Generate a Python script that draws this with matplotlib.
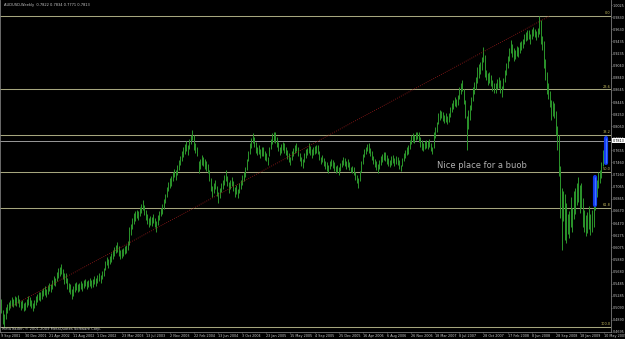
import numpy as np
import pandas as pd
import matplotlib
matplotlib.use('Agg')
import matplotlib.pyplot as plt

# chart header / footer
title_text = 'AUDUSD,Weekly  0.7822 0.7834 0.7771 0.7813'
footer_text = 'MetaTrader, \u00a9 2001-2009 MetaQuotes Software Corp.'
note_text = 'Nice place for a buob'
first_week = '2001-09-09'
bid_price = 0.7813

# weekly bar lows / highs (in 0.001)
lows = [500, 482, 477, 490, 500, 505, 508, 512, 510, 514, 512, 516, 510, 506, 508, 503, 505, 510, 514, 512,
        508, 504, 508, 514, 518, 522, 520, 524, 528, 530, 527, 532, 536, 534, 540, 546, 544, 552, 558, 560,
        564, 556, 548, 550, 540, 535, 532, 523,
        528, 535, 538, 534, 537, 540, 536, 541, 544, 540, 542, 545, 541, 543, 547, 545, 549, 552, 550, 556,
        560, 570, 578, 574, 580, 584, 588, 594, 598, 600, 594, 588, 590, 593, 596, 598, 603,
        612, 628, 638, 646, 650, 655, 652, 658, 663, 668, 660, 652, 646, 640, 644, 642, 648, 640, 633, 644,
        652, 658, 662, 670, 680, 690, 700, 704, 708, 716, 722, 718, 726, 734, 742, 748, 755, 760, 764, 758,
        768, 776, 782,
        766, 762, 756, 729, 735, 742, 740, 736, 732, 729, 716, 700, 690, 696, 702, 692, 680, 688, 698, 703,
        710, 716, 708, 696, 702, 708, 700, 690, 694, 688, 696, 703, 710, 716, 722, 734, 748, 760, 770, 778,
        772, 762, 758, 760, 754, 757, 756, 750, 748, 742, 756, 768, 776, 780, 778, 772, 764, 758, 762, 766,
        762, 758, 752, 746, 742, 750, 756, 762, 764, 756, 748, 740, 737,
        746, 754, 758, 762, 758, 754, 758, 760, 762, 759, 750, 744, 746, 740, 736, 732, 729, 735, 740, 737,
        732, 728, 730, 725, 732, 738, 742, 740, 736, 739, 734, 730, 728, 726, 718, 712, 704, 716, 730, 744,
        755, 760, 764, 762, 756, 750, 744, 738, 734, 729, 736, 742, 746, 750, 749, 744, 740, 738, 742, 745,
        740, 744, 742, 736, 732, 740, 748, 754, 758, 760, 768, 776, 780, 778, 782, 784, 780, 772, 766, 764,
        768, 770, 768, 772, 764, 760, 770,
        786, 796, 808, 816, 818, 814, 810, 812, 808, 812, 820, 828, 834, 838, 836, 840, 850, 858, 862, 842,
        818, 766, 800, 816, 832, 846, 858, 866, 876, 884, 890, 896, 910, 886, 880, 872, 876, 870, 862, 860,
        859, 866, 868, 860, 853, 866, 878, 888, 900, 912, 924, 918, 912, 915, 920, 918, 925, 930, 932, 940,
        944, 946, 948, 940, 948, 952, 950, 946, 950, 955,
        940, 930, 900, 880, 857, 850, 836, 815, 822, 818, 790, 766, 724, 655, 603, 650, 620, 615, 630, 622,
        640, 632, 654, 662, 676, 682, 664, 672, 641, 632, 626, 631, 638, 628, 632, 640, 668, 690, 704, 712,
        720, 740, 750, 777]

highs = [523, 505, 498, 510, 515, 518, 522, 526, 524, 528, 527, 530, 524, 520, 522, 516, 518, 524, 528, 526,
         521, 517, 522, 528, 532, 535, 534, 538, 541, 544, 540, 546, 549, 548, 554, 560, 558, 567, 574, 575,
         580, 572, 565, 566, 557, 550, 548, 540,
         545, 549, 551, 548, 550, 553, 549, 554, 556, 553, 555, 558, 554, 556, 560, 557, 562, 565, 563, 569,
         574, 586, 592, 589, 594, 598, 603, 608, 612, 616, 610, 603, 604, 607, 610, 612, 618,
         641, 645, 655, 663, 666, 669, 667, 673, 678, 685, 677, 668, 662, 656, 659, 657, 662, 655, 650, 660,
         667, 672, 678, 686, 695, 706, 714, 720, 724, 730, 736, 733, 742, 750, 757, 764, 771, 776, 781, 775,
         784, 790, 799,
         790, 778, 772, 748, 752, 758, 755, 751, 748, 744, 733, 720, 708, 712, 717, 708, 698, 704, 713, 717,
         726, 734, 724, 714, 718, 722, 715, 706, 710, 703, 712, 717, 725, 730, 739, 752, 764, 778, 786, 794,
         788, 780, 772, 774, 768, 771, 771, 764, 762, 755, 772, 784, 794, 795, 796, 788, 780, 771, 776, 780,
         777, 772, 766, 761, 755, 764, 770, 775, 778, 771, 762, 755, 752,
         762, 768, 770, 778, 773, 768, 771, 773, 775, 775, 765, 755, 758, 753, 748, 746, 742, 748, 752, 750,
         746, 740, 742, 738, 745, 750, 755, 754, 748, 751, 746, 739, 741, 738, 731, 726, 720, 732, 748, 760,
         768, 771, 776, 778, 770, 764, 756, 752, 748, 744, 750, 756, 760, 763, 763, 758, 754, 750, 756, 758,
         754, 757, 755, 750, 742, 753, 762, 767, 771, 774, 782, 790, 794, 790, 795, 796, 796, 788, 782, 778,
         781, 782, 781, 784, 778, 771, 796,
         804, 812, 826, 831, 830, 828, 824, 826, 822, 827, 836, 843, 848, 852, 850, 856, 869, 876, 881, 866,
         848, 822, 832, 840, 852, 869, 878, 886, 902, 906, 910, 918, 934, 922, 897, 892, 894, 888, 880, 876,
         875, 882, 885, 880, 870, 884, 897, 908, 920, 932, 946, 940, 932, 930, 936, 934, 942, 944, 948, 955,
         958, 962, 962, 956, 963, 967, 964, 960, 966, 985,
         978, 952, 944, 915, 893, 875, 862, 848, 846, 843, 830, 805, 790, 740, 705, 700, 695, 680, 662, 667,
         690, 672, 700, 705, 712, 722, 710, 712, 688, 668, 660, 665, 675, 662, 668, 680, 706, 717, 730, 734,
         746, 766, 777, 783]

# fibonacci levels (percent) stretched between the chart extremes
fib_ratios = [0.0, 23.6, 38.2, 50.0, 61.8, 100.0]

# red dotted trend line (bar index, price)
trend_bars = [6, 364]
trend_prices = [0.510, 0.985]

# blue highlight strokes near the end (bar index, low, high)
mark_bars = [394, 401]
mark_lows = [0.676, 0.745]
mark_highs = [0.722, 0.786]

# axis labels as shown by the terminal
date_labels = ['9 Sep 2001', '30 Dec 2001', '21 Apr 2002', '11 Aug 2002', '1 Dec 2002', '23 Mar 2003',
               '13 Jul 2003', '2 Nov 2003', '22 Feb 2004', '13 Jun 2004', '3 Oct 2004', '23 Jan 2005',
               '15 May 2005', '4 Sep 2005', '25 Dec 2005', '16 Apr 2006', '6 Aug 2006', '26 Nov 2006',
               '18 Mar 2007', '8 Jul 2007', '28 Oct 2007', '17 Feb 2008', '8 Jun 2008', '28 Sep 2008',
               '18 Jan 2009', '10 May 2009']
price_labels = ['1.0025', '0.9830', '0.9630', '0.9435', '0.9235', '0.9040', '0.8840', '0.8645', '0.8445',
                '0.8250', '0.8050', '0.7855', '0.7655', '0.7460', '0.7260', '0.7065', '0.6865', '0.6670',
                '0.6470', '0.6275', '0.6075', '0.5880', '0.5680', '0.5485', '0.5285', '0.5090', '0.4890',
                '0.4695']

lo = np.array(lows) / 1000.0
hi = np.array(highs) / 1000.0
bars = np.arange(len(lo))

start = pd.Timestamp(first_week)
date_pos = [(pd.Timestamp(d) - start).days / 7 for d in date_labels]

axis_grey = '#7c7c7c'
text_grey = '#c8c8c8'

fig = plt.figure(figsize=(6.25, 3.39), dpi=100, facecolor='black')
ax = fig.add_axes([0, 7 / 339, 611 / 625, 332 / 339])
ax.set_facecolor('black')

# price bars
ax.vlines(bars, lo, hi, color='#2c962c', linewidth=0.7)

# fibonacci retracement
top, bottom = hi.max(), lo.min()
for r in fib_ratios:
    level = top - r / 100.0 * (top - bottom)
    ax.axhline(level, color='#a6a67e', linewidth=0.75, zorder=1)
    ax.text(404.2, level + 0.0015, '%.1f' % r, color='#c8be60', fontsize=2.5,
            ha='right', va='bottom')

# trend line
ax.plot(trend_bars, trend_prices, color='#a01c1c', linewidth=0.6, linestyle=(0, (1, 1.6)))

# bid line
ax.axhline(bid_price, color='#9a9a9a', linewidth=0.7, zorder=1)

# blue strokes
ax.vlines(mark_bars, mark_lows, mark_highs, color='#1238f0', linewidth=3.0, capstyle='round', zorder=5)
ax.vlines(mark_bars, mark_lows, mark_highs, color='#3f78ff', linewidth=0.9, zorder=6)

ax.text(289.5, 0.7418, note_text, color='#b0b0b0', fontsize=6, ha='left', va='center')

ax.text(2.0, 1.0035, title_text, color=text_grey, fontsize=2.6, ha='left', va='center')
ax.text(0.8, 0.4745, footer_text, color=text_grey, fontsize=2.6, ha='left', va='center')

ax.set_xlim(-0.66, 404.6)
ax.set_ylim(0.4694, 1.011)

ax.spines['top'].set_visible(False)
for side in ['left', 'right', 'bottom']:
    ax.spines[side].set_color(axis_grey)
    ax.spines[side].set_linewidth(0.6)

ax.yaxis.tick_right()
ax.set_yticks([float(p) for p in price_labels], price_labels)
ax.tick_params(axis='y', colors=axis_grey, labelcolor=text_grey, length=1.0, width=0.5,
               labelsize=2.4, pad=0.5)

ax.set_xticks(date_pos, date_labels)
ax.tick_params(axis='x', colors=axis_grey, labelcolor=text_grey, length=1.0, width=0.5,
               labelsize=2.4, pad=0.3)
for t in ax.get_xticklabels():
    t.set_ha('left')

# bid price box on the scale
ax.text(1.003, bid_price, '%.4f' % bid_price, transform=ax.get_yaxis_transform(),
        fontsize=2.4, color='black', ha='left', va='center',
        bbox=dict(boxstyle='square,pad=0.15', facecolor='white', edgecolor='none'))

fig.savefig('out.png', dpi=100, facecolor='black')
